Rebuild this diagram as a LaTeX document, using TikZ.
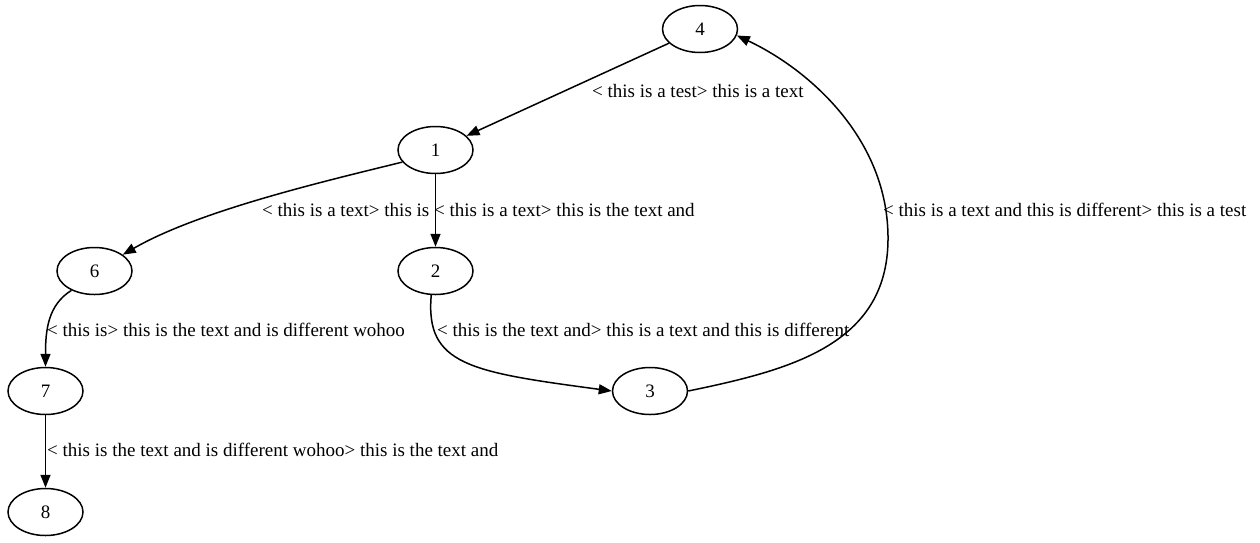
\documentclass[tikz,border=0pt]{standalone}
\usepackage{fontspec}
\setmainfont{Liberation Serif}
\usetikzlibrary{
  shapes.geometric,
  arrows.meta
}

\tikzset{
  state/.style={draw, ellipse, line width=1.5pt, minimum width=75pt, minimum height=47pt, inner sep=0pt},
  trans/.style={-{Triangle[length=13pt,width=10pt]}, line width=1.5pt},
  tlabel/.style={anchor=base west, inner sep=0pt}
}

\begin{document}
\begin{tikzpicture}[x=1pt, y=-1pt, font=\fontsize{19}{22}\selectfont]

	    \useasboundingbox (0,0) rectangle (1260,542);
	    % states, y counted downwards
	    \node[state] (n4) at (700,29)   {4};
	    \node[state] (n1) at (435.5,150) {1};
	    \node[state] (n6) at (94.5,271) {6};
	    \node[state] (n2) at (435.5,271) {2};
	    \node[state] (n7) at (45.5,391) {7};
	    \node[state] (n3) at (650,391)  {3};
	    \node[state] (n8) at (45.5,512) {8};

	    % transitions
	    \draw[trans] (n4) -- (n1);
	    \draw[trans] (n1.200) .. controls (330,180) and (200,210) .. (n6.30);
	    \draw[trans] (n1) -- (n2);
	    \draw[trans] (n2.-100) .. controls (425,365) and (470,372) .. (n3.west);
	    \draw[trans] (n3.east) .. controls (790,370) and (887,345) .. (888,240)
	        .. controls (889,140) and (810,70) .. (n4.-10);
	    \draw[trans] (n6.220) .. controls (48,305) and (45.5,330) .. (n7.north);
	    \draw[trans] (n7) -- (n8);

	    % transition labels
	    \node[tlabel] (t41) at (592,97)  {< this is a test> this is a text};
	    \node[tlabel] (t16) at (262,216) {< this is a text> this is};
	    \node[tlabel] (t12) at (434,216) {< this is a text> this is the text and};
	    \node[tlabel] (t34) at (883,216) {< this is a text and this is different> this is a test};
	    \node[tlabel] (t67) at (47,336)  {< this is> this is the text and is different wohoo};
	    \node[tlabel] (t23) at (437,336) {< this is the text and> this is a text and this is different};
	    \node[tlabel] (t78) at (47,456)  {< this is the text and is different wohoo> this is the text and};

\end{tikzpicture}
\end{document}
